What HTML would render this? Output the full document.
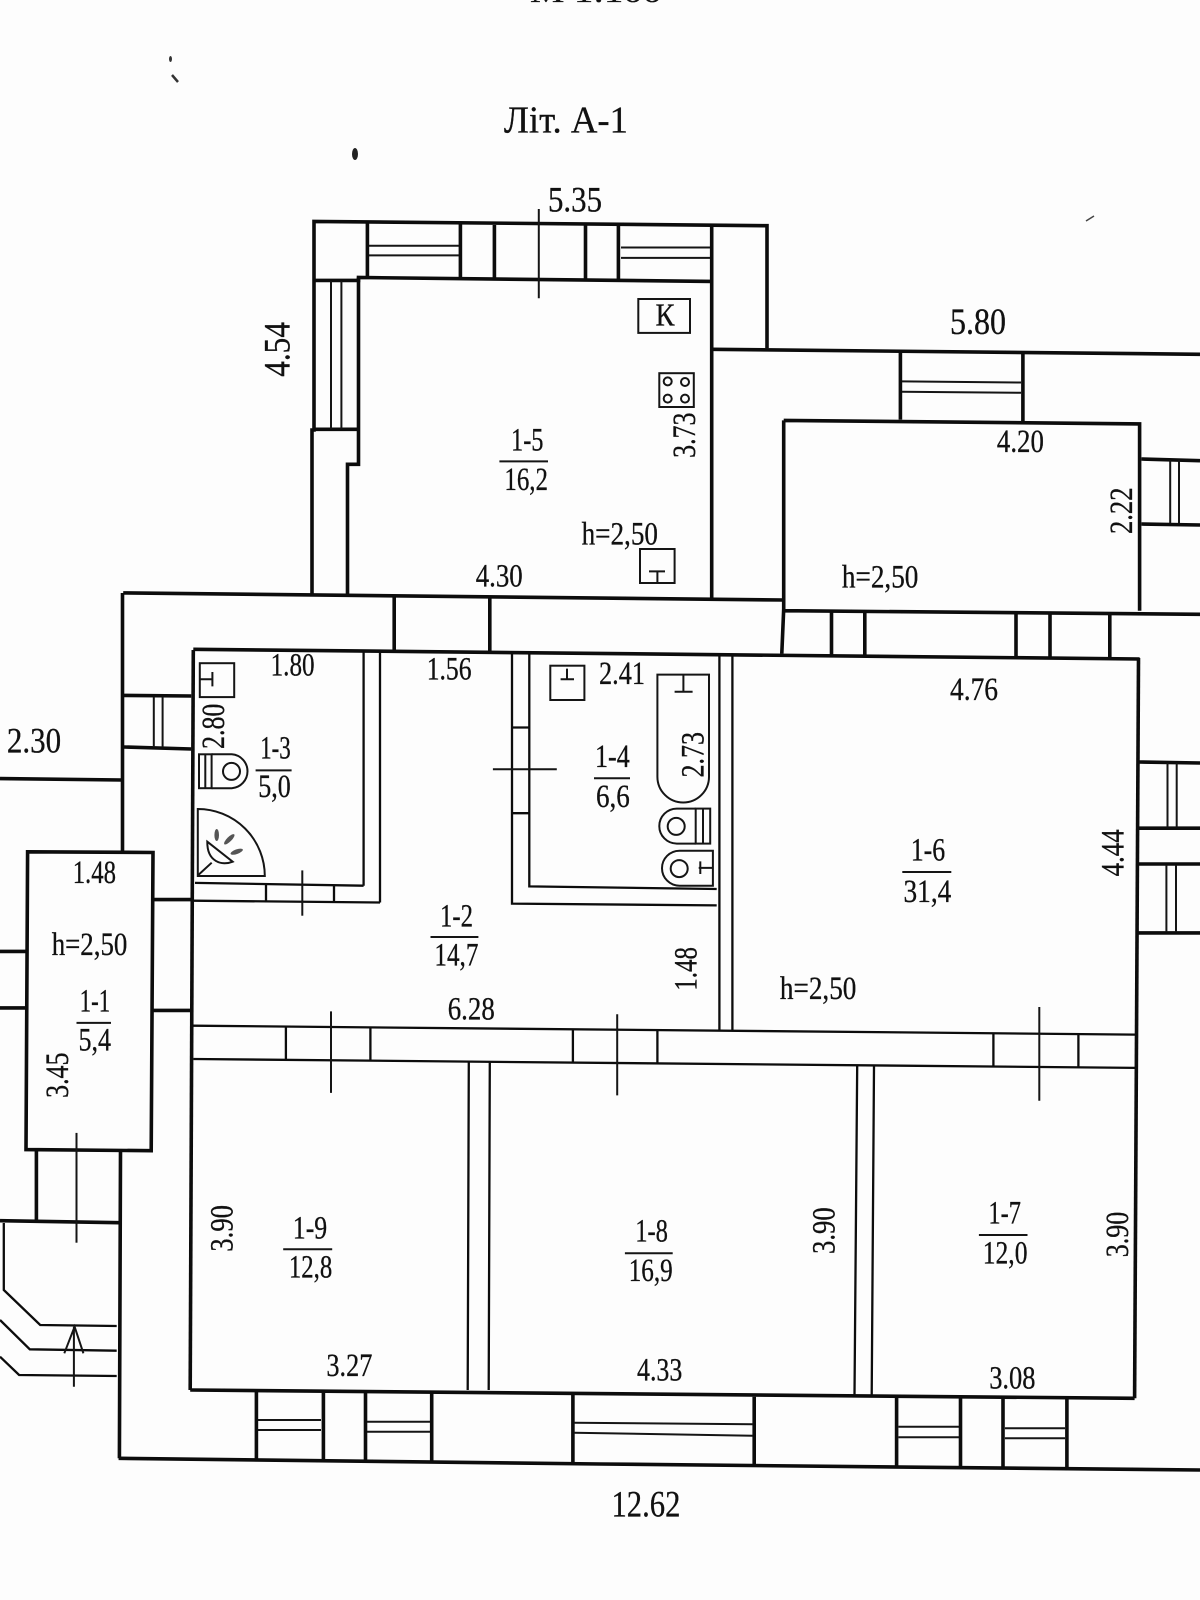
<!DOCTYPE html>
<html><head><meta charset="utf-8"><style>
html,body{margin:0;padding:0;background:#fdfdfd}
svg{display:block}
text{font-family:"Liberation Serif",serif;font-size:33px;fill:#111;stroke:#111;stroke-width:.3}
.th{fill:none;stroke:#0c0c0c;stroke-width:3.6}
.m{fill:none;stroke:#0c0c0c;stroke-width:2.3}
.s{fill:none;stroke:#151515;stroke-width:2}
</style></head><body>
<svg width="1200" height="1600" viewBox="0 0 1200 1600" xmlns="http://www.w3.org/2000/svg">
<rect width="1200" height="1600" fill="#fdfdfd"/>
<!-- specks -->
<ellipse cx="355" cy="154" rx="3" ry="6" fill="#222"/>
<ellipse cx="170.500" cy="59" rx="1.500" ry="3" fill="#333"/>
<path d="M172 75L178 82" stroke="#333" stroke-width="2.500"/>
<path d="M1086 221L1094 216" stroke="#444" stroke-width="1.500"/>
<!-- outer walls: kitchen wing -->
<g class="th">
<path d="M312,594.600 V430 H314 V221.400 L767,225.700 V348.200"/>
<path d="M314,280.400 H358.500 V277.500 L711.700,281.400"/>
<path d="M358.500,277.500 V464.300 H347.500 V594.600"/>
<path d="M711.700,226.800 V598.200"/>
<path d="M314,429.300 H358"/>
<path d="M367.400,223 V277.500 M460.400,224 V278 M494.400,225 V278 M585.500,225 V279 M618.400,225.700 V279.300"/>
<path d="M711.700,349.300 L1200,354.300"/>
<path d="M900.400,351.800 V419.600 M1022.900,353.600 V422"/>
<path d="M783.700,420.400 L1139.600,423.900 V610.700 M783.700,420.400 V609 L781.800,653.600 M783.700,610.700 L1200,614.300"/>
<path d="M1141.500,459 L1200,460.700 M1141.500,524 L1200,525"/>
<path d="M123.200,592.900 L783,600"/>
<path d="M122.500,593 V850.700"/>
<path d="M394.200,597 V651 M489.800,598 V652"/>
<path d="M831.500,612.500 V656 M864.800,613 V657 M1016,613 V658 M1050,614 V658 M1109.800,614 V658"/>
<path d="M193.300,649.300 L1139.600,659"/>
<path d="M193.300,650 L190.200,1390"/>
<path d="M1138.500,658 L1134.600,1398.300"/>
<path d="M124,695.400 L191.300,696 M124,747 L191.300,749"/>
<path d="M0,778.600 L121.700,780"/>
<path d="M27.600,851.800 L153,852.500 L151.200,1150.700 L26,1149.600 Z"/>
<path d="M153,899.600 H191 M153,1010.400 H190.200"/>
<path d="M0,951.400 H26.800 M0,1007.900 H26.800"/>
<path d="M36.400,1150.700 V1220 M120.500,1150.700 L119.400,1458.300"/>
<path d="M0,1220.700 L118.600,1222.700"/>
<path d="M190.200,1390 L1134.600,1398.300"/>
<path d="M118.600,1458.300 L600,1464 L1200,1470"/>
<path d="M256.400,1390 V1461 M323.400,1391 V1462 M365.500,1391 V1462 M431.700,1392 V1463 M572.900,1393 V1464 M754.200,1396.700 V1465 M896.600,1397.700 V1466.700 M960.500,1398 V1467 M1003,1398 V1467 M1066.900,1398.300 V1467.500"/>
<path d="M1138.800,762 L1200,763 M1138.800,828.200 H1200 M1138.800,864 H1200 M1136,932.900 H1200"/>
</g>
<!-- medium walls -->
<g class="m">
<path d="M363.600,652 V885.700 M380,652 V902.500"/>
<path d="M195,882.900 L363.600,885.700"/>
<path d="M512,652.500 V903.600 L716.700,905.400 M529.300,653 V886.400 L716.700,889"/>
<path d="M719.400,656 V1031 M732.400,656 V1031"/>
<path d="M3.800,1223 V1290 L40.200,1325 L116.700,1326"/>
<path d="M0,1320 L29.800,1349.300 L116.700,1350.700"/>
<path d="M0,1356.700 L19.100,1375 L116.700,1376"/>
<path d="M193.300,1025.700 L1135,1034.600 M193.300,1059 L1135,1067.900"/>
<path d="M468.800,1061 L467.700,1390 M489.800,1062 L488.700,1390"/>
<path d="M857.200,1065 L854.500,1395 M874,1066 L871.700,1395"/>
<path d="M285.900,1026.500 V1060 M370.400,1027 V1061 M572.900,1029.500 V1062.500 M657.400,1030 V1063.500 M993.400,1033.500 V1066.500 M1078.400,1034 V1067.500"/>
<path d="M193,900.700 L380,902.500"/>
<path d="M266,885 V901.500 M334,885.500 V902"/>
<path d="M512,727.500 H529.300 M512,813.200 H529.300"/>
</g>
<!-- window mullions, thin lines -->
<g class="s">
<path d="M331,281 V428.600 M341.400,281 V428.600"/>
<path d="M369,245.700 H459 M369,255.400 H459"/>
<path d="M621,247.500 H710 M621,257.900 H710"/>
<path d="M902,381.400 L1021,382.500 M902,391.800 L1021,392.800"/>
<path d="M1170.200,460 V523 M1179,460 V523"/>
<path d="M153.800,697 V747 M162.600,697 V747"/>
<path d="M1167.500,763 V827.500 M1176.700,763 V827.500 M1166.400,865 V932 M1176,865 V932"/>
<path d="M258,1420 H321 M258,1430 H321 M367,1421.700 H430 M367,1431.700 H430"/>
<path d="M574,1422.700 L753,1424.300 M574,1432.700 L753,1435.700"/>
<path d="M898.500,1426.700 H959 M898.500,1437.300 H959 M1004.900,1428.300 H1065 M1004.900,1438.300 H1065"/>
<!-- ticks -->
<path d="M538.800,209 V298.200"/>
<path d="M302.300,870.400 V915.700"/>
<path d="M492.900,769.300 H556.800"/>
<path d="M331,1011.400 V1092.900 M617.200,1014.300 V1095.400 M1039.300,1007 V1100.700"/>
<path d="M76.500,1132.900 V1242.700"/>
<path d="M73.900,1386.700 V1326.700 M64.300,1353.300 L74.600,1326.700 L83.400,1353.300"/>
<!-- fractions -->
<path d="M499.400,461.400 H548 M255.600,770.400 H291.600 M594,778.200 H630 M902.300,872 H951.300 M430.500,937 H478.400 M76.500,1022.900 H111 M283.200,1249.300 H332.200 M624.900,1253.300 H672.700 M978.900,1235 H1027.500"/>
</g>
<!-- fixtures -->
<g class="s">
<rect x="638.300" y="299" width="51.700" height="33.900"/>
<rect x="659.300" y="373.200" width="34.500" height="33.800"/>
<circle cx="667.700" cy="381.400" r="4"/><circle cx="685" cy="382" r="4"/><circle cx="667.700" cy="398.600" r="4"/><circle cx="685" cy="398.600" r="4"/>
<rect x="640" y="549" width="34.600" height="34"/>
<path d="M649,571.400 H665 M657.400,571.400 V583"/>
<rect x="199.800" y="663.200" width="34.400" height="33.900"/>
<path d="M212.400,672 V686.400 M199.800,679.300 H212.400"/>
<rect x="550.300" y="665.700" width="34.100" height="34.300"/>
<path d="M560.600,679.300 H574 M567,668.600 V679.300"/>
<!-- toilet 1 -->
<rect x="199" y="754.300" width="12.600" height="33.900"/>
<path d="M205.300,754.300 V788.200"/>
<path d="M211.600,754.300 H231.800 A17,17 0 0 1 231.800,788.200 H211.600"/>
<circle cx="231.500" cy="771.400" r="8.500"/>
<!-- shower -->
<path d="M197.800,809 A67,67 0 0 1 264.800,876 H197.800 Z"/>
<path d="M198.300,875 L211.700,862.700"/>
<path d="M207.300,841.700 L232.700,861.700 C222,866 207,862 207.300,841.700 Z"/>
<!-- bath -->
<path d="M657.400,674.600 H709 V776.700 A25.800,25.800 0 0 1 657.400,776.700 Z"/>
<path d="M674.600,691.800 H692.600 M683.400,674.600 V691.800"/>
<!-- toilet 2 -->
<path d="M695.700,808.600 H676.800 A17.500,17.500 0 0 0 676.800,843.600 H695.700"/>
<rect x="695.700" y="808.600" width="14.500" height="35"/>
<path d="M703,808.600 V843.600"/>
<circle cx="676.200" cy="826.400" r="8.500"/>
<!-- toilet 3 -->
<path d="M712.900,850.700 H679.500 A17.500,17.500 0 0 0 679.500,885.700 H712.900 Z"/>
<circle cx="679.200" cy="868.600" r="8.500"/>
<path d="M698.700,867.900 H712.900 M700.300,861.400 V874"/>
</g>
<ellipse cx="216.700" cy="835" rx="2.300" ry="6" fill="#555"/>
<ellipse cx="229.300" cy="839.300" rx="2.300" ry="7" fill="#555" transform="rotate(45 229.300 839.300)"/>
<ellipse cx="236.700" cy="851.700" rx="2.300" ry="6.500" fill="#555" transform="rotate(70 236.700 851.700)"/>

<!-- labels -->
<text x="530" y="2" style="font-size:28px" textLength="132" lengthAdjust="spacingAndGlyphs">М 1:100</text>
<text x="504" y="132.700" style="font-size:38px" textLength="124" lengthAdjust="spacingAndGlyphs">Літ. А-1</text>
<text x="548" y="211.400" style="font-size:36px" textLength="54" lengthAdjust="spacingAndGlyphs">5.35</text>
<text x="950" y="334" style="font-size:37px" textLength="56" lengthAdjust="spacingAndGlyphs">5.80</text>
<text x="475.700" y="586.400" textLength="47" lengthAdjust="spacingAndGlyphs">4.30</text>
<text x="511" y="450.700" textLength="32.500" lengthAdjust="spacingAndGlyphs">1-5</text>
<text x="504.400" y="490" textLength="43.600" lengthAdjust="spacingAndGlyphs">16,2</text>
<text x="581.600" y="544.600" textLength="76.400" lengthAdjust="spacingAndGlyphs">h=2,50</text>
<text x="996.900" y="451.800" textLength="47" lengthAdjust="spacingAndGlyphs">4.20</text>
<text x="841.900" y="587.500" textLength="76.500" lengthAdjust="spacingAndGlyphs">h=2,50</text>
<text x="950" y="700" textLength="48" lengthAdjust="spacingAndGlyphs">4.76</text>
<text x="599" y="684" textLength="46" lengthAdjust="spacingAndGlyphs">2.41</text>
<text x="6.900" y="752.500" style="font-size:36px" textLength="54.300" lengthAdjust="spacingAndGlyphs">2.30</text>
<text x="270.600" y="675.700" textLength="44" lengthAdjust="spacingAndGlyphs">1.80</text>
<text x="426.700" y="679.300" textLength="44.800" lengthAdjust="spacingAndGlyphs">1.56</text>
<text x="260.200" y="758.600" textLength="30.600" lengthAdjust="spacingAndGlyphs">1-3</text>
<text x="258.300" y="797" textLength="32.500" lengthAdjust="spacingAndGlyphs">5,0</text>
<text x="72.700" y="882.900" textLength="43.300" lengthAdjust="spacingAndGlyphs">1.48</text>
<text x="51.700" y="955" textLength="75.700" lengthAdjust="spacingAndGlyphs">h=2,50</text>
<text x="79.600" y="1011.400" textLength="30.600" lengthAdjust="spacingAndGlyphs">1-1</text>
<text x="78.500" y="1050.700" textLength="32.500" lengthAdjust="spacingAndGlyphs">5,4</text>
<text x="440" y="926.400" textLength="33" lengthAdjust="spacingAndGlyphs">1-2</text>
<text x="434.400" y="965.700" textLength="44" lengthAdjust="spacingAndGlyphs">14,7</text>
<text x="447.700" y="1019.300" textLength="47.100" lengthAdjust="spacingAndGlyphs">6.28</text>
<text x="595" y="766.800" textLength="34.800" lengthAdjust="spacingAndGlyphs">1-4</text>
<text x="596" y="807" textLength="33.800" lengthAdjust="spacingAndGlyphs">6,6</text>
<text x="910.700" y="860.700" textLength="34.500" lengthAdjust="spacingAndGlyphs">1-6</text>
<text x="903.500" y="901.800" textLength="47.800" lengthAdjust="spacingAndGlyphs">31,4</text>
<text x="779.900" y="999" textLength="76.500" lengthAdjust="spacingAndGlyphs">h=2,50</text>
<text x="292.800" y="1238.300" textLength="34.400" lengthAdjust="spacingAndGlyphs">1-9</text>
<text x="288.900" y="1277.700" textLength="43.300" lengthAdjust="spacingAndGlyphs">12,8</text>
<text x="326.400" y="1376" textLength="46" lengthAdjust="spacingAndGlyphs">3.27</text>
<text x="635.200" y="1241.700" textLength="32.800" lengthAdjust="spacingAndGlyphs">1-8</text>
<text x="628.700" y="1281" textLength="44" lengthAdjust="spacingAndGlyphs">16,9</text>
<text x="988.400" y="1223.300" textLength="32.600" lengthAdjust="spacingAndGlyphs">1-7</text>
<text x="982.700" y="1263.300" textLength="44.800" lengthAdjust="spacingAndGlyphs">12,0</text>
<text x="637" y="1380.700" textLength="45.300" lengthAdjust="spacingAndGlyphs">4.33</text>
<text x="989.200" y="1388.300" textLength="46.300" lengthAdjust="spacingAndGlyphs">3.08</text>
<text x="611.500" y="1516.700" style="font-size:37px" textLength="68.900" lengthAdjust="spacingAndGlyphs">12.62</text>
<text x="655.500" y="325.700" style="font-size:32px" textLength="19" lengthAdjust="spacingAndGlyphs">К</text>
<!-- rotated -->
<text transform="translate(289.700,376.800) rotate(-90)" style="font-size:37px" textLength="54.800" lengthAdjust="spacingAndGlyphs">4.54</text>
<text transform="translate(694.900,457.900) rotate(-90)" textLength="45.400" lengthAdjust="spacingAndGlyphs">3.73</text>
<text transform="translate(1132,534) rotate(-90)" textLength="46.500" lengthAdjust="spacingAndGlyphs">2.22</text>
<text transform="translate(223.900,749) rotate(-90)" textLength="45.400" lengthAdjust="spacingAndGlyphs">2.80</text>
<text transform="translate(703.300,777.500) rotate(-90)" textLength="45.500" lengthAdjust="spacingAndGlyphs">2.73</text>
<text transform="translate(1123.500,876.400) rotate(-90)" textLength="47.100" lengthAdjust="spacingAndGlyphs">4.44</text>
<text transform="translate(696.400,990.700) rotate(-90)" textLength="43.700" lengthAdjust="spacingAndGlyphs">1.48</text>
<text transform="translate(68.100,1097.900) rotate(-90)" textLength="45.400" lengthAdjust="spacingAndGlyphs">3.45</text>
<text transform="translate(232.300,1251.700) rotate(-90)" textLength="46.700" lengthAdjust="spacingAndGlyphs">3.90</text>
<text transform="translate(834.600,1254) rotate(-90)" textLength="46.700" lengthAdjust="spacingAndGlyphs">3.90</text>
<text transform="translate(1128,1257.300) rotate(-90)" textLength="45.600" lengthAdjust="spacingAndGlyphs">3.90</text>
</svg>
</body></html>
